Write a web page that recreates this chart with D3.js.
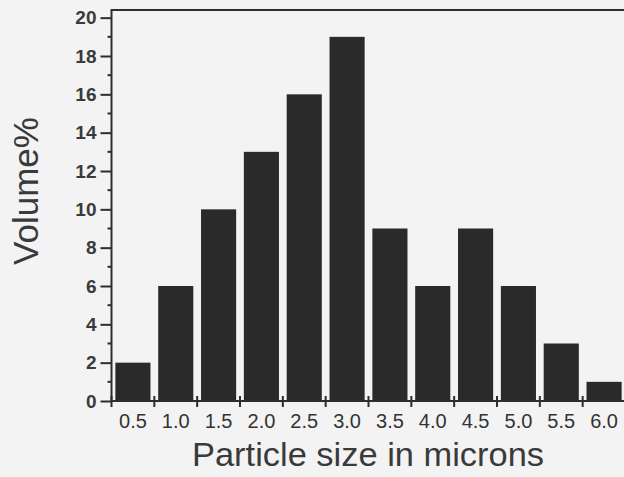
<!DOCTYPE html>
<html>
<head>
<meta charset="utf-8">
<script src="https://cdn.jsdelivr.net/npm/d3@7"></script>
<style>
  body { margin: 0; background: #f3f3f3; }
  svg { display: block; }
</style>
</head>
<body>
<script>
// chart data
var sizes = ["0.5", "1.0", "1.5", "2.0", "2.5", "3.0", "3.5", "4.0", "4.5", "5.0", "5.5", "6.0"];
var volumes = [2, 6, 10, 13, 16, 19, 9, 6, 9, 6, 3, 1];
var yTicks = [0, 2, 4, 6, 8, 10, 12, 14, 16, 18, 20];
var yMinorTicks = [1, 3, 5, 7, 9, 11, 13, 15, 17, 19];

var w = 624, h = 477;
var padLeft = 111.5, padTop = 10, padBottom = 401, padRight = 625.5;

var svg = d3.select("body").append("svg")
    .attr("width", w)
    .attr("height", h)
    .style("background", "#f3f3f3");

// band scale for the bars, ticks sit at the band boundaries
var x = d3.scaleBand()
    .domain(sizes)
    .range([padLeft, padRight])
    .paddingInner(0.18)
    .paddingOuter(0.09);

var y = d3.scaleLinear()
    .domain([0, 20.4])
    .range([padBottom, padTop]);

var ink = "#2e2e2e";
var font = "Liberation Sans, Arial, sans-serif";

// bars
svg.selectAll(".bar")
    .data(volumes)
    .enter()
    .append("rect")
    .attr("class", "bar")
    .attr("x", function(d, i){ return x(sizes[i]); })
    .attr("y", function(d){ return y(d); })
    .attr("width", x.bandwidth())
    .attr("height", function(d){ return y(0) - y(d); })
    .style("fill", "#2a2a2a");

// frame (top edge runs off to the right)
svg.append("path")
    .attr("d", "M" + padLeft + "," + padBottom + "V" + padTop + "H" + (w + 5))
    .style("fill", "none")
    .style("stroke", ink)
    .style("stroke-width", 2);

svg.append("line")
    .attr("x1", padLeft).attr("x2", w + 5)
    .attr("y1", padBottom).attr("y2", padBottom)
    .style("stroke", ink)
    .style("stroke-width", 2);

// y axis
var yAxis = d3.axisLeft(y)
    .tickValues(yTicks)
    .tickSize(11)
    .tickPadding(4);

var yg = svg.append("g")
    .attr("transform", "translate(" + padLeft + ",0)")
    .call(yAxis);
yg.select(".domain").remove();
yg.selectAll(".tick line").style("stroke", ink).style("stroke-width", 2);
yg.selectAll(".tick text")
    .style("font-family", font)
    .style("font-size", "19px")
    .style("font-weight", "bold")
    .style("fill", "#3a3a3a");

// minor y ticks
svg.selectAll(".yminor")
    .data(yMinorTicks)
    .enter()
    .append("line")
    .attr("class", "yminor")
    .attr("x1", padLeft - 4).attr("x2", padLeft)
    .attr("y1", function(d){ return y(d); })
    .attr("y2", function(d){ return y(d); })
    .style("stroke", ink)
    .style("stroke-width", 2);

// x ticks at bar boundaries
var step = x.step();
var bounds = sizes.map(function(s){ return x(s) - step * x.paddingInner() / 2; });
svg.selectAll(".xtick")
    .data(bounds)
    .enter()
    .append("line")
    .attr("class", "xtick")
    .attr("x1", function(d){ return d; })
    .attr("x2", function(d){ return d; })
    .attr("y1", padBottom - 5).attr("y2", padBottom + 6)
    .style("stroke", ink)
    .style("stroke-width", 2);

// x labels via axis
var xAxis = d3.axisBottom(x).tickSize(0).tickPadding(13);
var xg = svg.append("g")
    .attr("transform", "translate(0," + padBottom + ")")
    .call(xAxis);
xg.select(".domain").remove();
xg.selectAll(".tick text")
    .style("font-family", font)
    .style("font-size", "20px")
    .style("fill", "#333");

// axis titles
svg.append("text")
    .attr("text-anchor", "middle")
    .attr("x", 368)
    .attr("y", 466)
    .attr("textLength", 352)
    .attr("lengthAdjust", "spacingAndGlyphs")
    .style("font-family", font)
    .style("font-size", "33px")
    .style("fill", "#3a3a3a")
    .text("Particle size in microns");

svg.append("text")
    .attr("text-anchor", "middle")
    .attr("transform", "translate(38,191) rotate(-90)")
    .style("font-family", font)
    .style("font-size", "35px")
    .style("fill", "#3a3a3a")
    .text("Volume%");
</script>
</body>
</html>
